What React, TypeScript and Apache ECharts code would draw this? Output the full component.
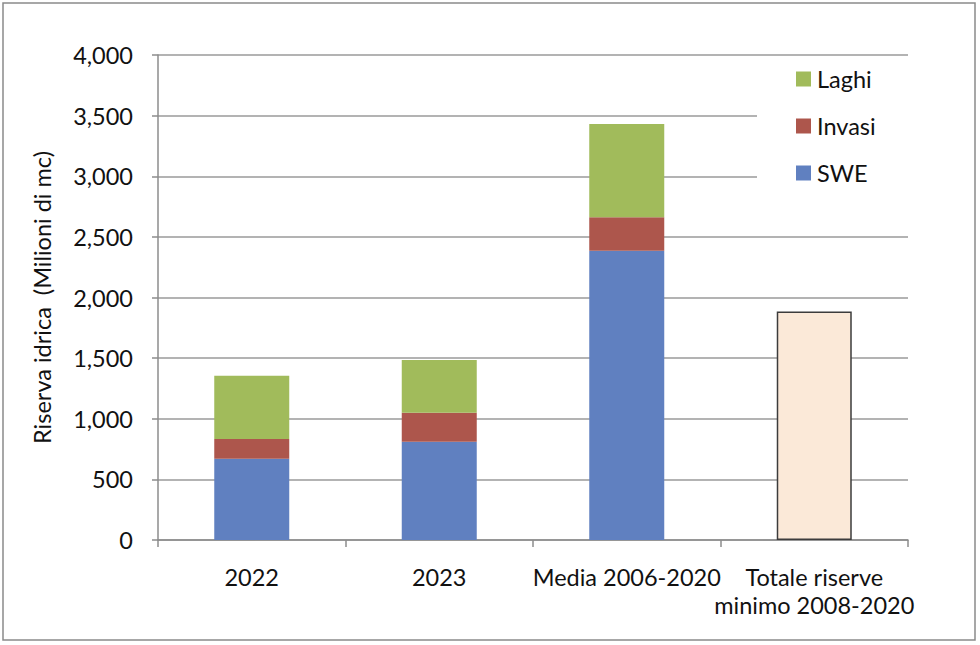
import React, { useEffect, useRef } from "react";
import * as echarts from "echarts";

const categories = ["2022", "2023", "Media 2006-2020", "Totale riserve\nminimo 2008-2020"];
const sweValues = [670, 810, 2385, null];
const invasiValues = [163, 240, 276, null];
const laghiValues = [522, 435, 770, null];
const totaleValues = [null, null, null, 1885];
const yTicks = { min: 0, max: 4000, interval: 500 };

const FONT = "Lato, 'Liberation Sans', sans-serif";
const FS = 23.5;

export default function App() {
  const ref = useRef<HTMLDivElement>(null);
  useEffect(() => {
    if (!ref.current) return;
    const chart = echarts.init(ref.current, null, { renderer: "svg" });
    chart.setOption({
      animation: false,
      backgroundColor: "#fff",
      textStyle: { fontFamily: FONT },
      graphic: [
        {
          type: "rect",
          shape: { x: 3, y: 3, width: 972, height: 637 },
          style: { fill: "none", stroke: "#8a8a8a", lineWidth: 1.5 },
          silent: true,
        },
      ],
      legend: {
        orient: "vertical",
        left: 757,
        top: 59,
        data: ["Laghi", "Invasi", "SWE"],
        backgroundColor: "#fff",
        padding: [8, 40, 17, 39],
        itemWidth: 15,
        itemHeight: 15,
        itemGap: 23,
        icon: "rect",
        z: 10,
        textStyle: { fontFamily: FONT, fontSize: FS, color: "#111", lineHeight: 20, padding: [0, 0, 0, 1] },
      },
      grid: { left: 158, right: 72, top: 55, bottom: 105 },
      xAxis: {
        type: "category",
        data: categories,
        axisLine: { lineStyle: { color: "#8c8c8c", width: 1.5 } },
        axisTick: { show: true, length: 7, lineStyle: { color: "#8c8c8c", width: 1.5 } },
        axisLabel: {
          interval: 0,
          fontFamily: FONT,
          fontSize: FS,
          color: "#111",
          lineHeight: 28,
          margin: 23,
        },
      },
      yAxis: {
        type: "value",
        min: yTicks.min,
        max: yTicks.max,
        interval: yTicks.interval,
        name: "Riserva idrica  (Milioni di mc)",
        nameLocation: "middle",
        nameGap: 104,
        nameTextStyle: { fontFamily: FONT, fontSize: FS, color: "#111" },
        axisLine: { show: true, lineStyle: { color: "#8c8c8c", width: 1.5 } },
        axisTick: { show: true, length: 6, lineStyle: { color: "#8c8c8c", width: 1.5 } },
        splitLine: { lineStyle: { color: "#9a9a9a", width: 1.5 } },
        axisLabel: {
          fontFamily: FONT,
          fontSize: FS,
          color: "#111",
          margin: 25,
          formatter: (v: number) => v.toLocaleString("en-US"),
        },
      },
      series: [
        {
          name: "SWE",
          type: "bar",
          stack: "t",
          data: sweValues,
          barCategoryGap: "60%",
          itemStyle: { color: "#6080c0" },
        },
        {
          name: "Invasi",
          type: "bar",
          stack: "t",
          data: invasiValues,
          itemStyle: { color: "#ad564c" },
        },
        {
          name: "Laghi",
          type: "bar",
          stack: "t",
          data: laghiValues,
          itemStyle: { color: "#a1bb5b" },
        },
        {
          name: "Totale",
          type: "bar",
          stack: "t",
          data: totaleValues,
          itemStyle: { color: "#fbe9d8", borderColor: "#3c3c3c", borderWidth: 1.5 },
        },
      ],
    });
    return () => chart.dispose();
  }, []);
  return (
    <div
      ref={ref}
      style={{ position: "fixed", left: 0, top: 0, width: 980, height: 645 }}
    />
  );
}
